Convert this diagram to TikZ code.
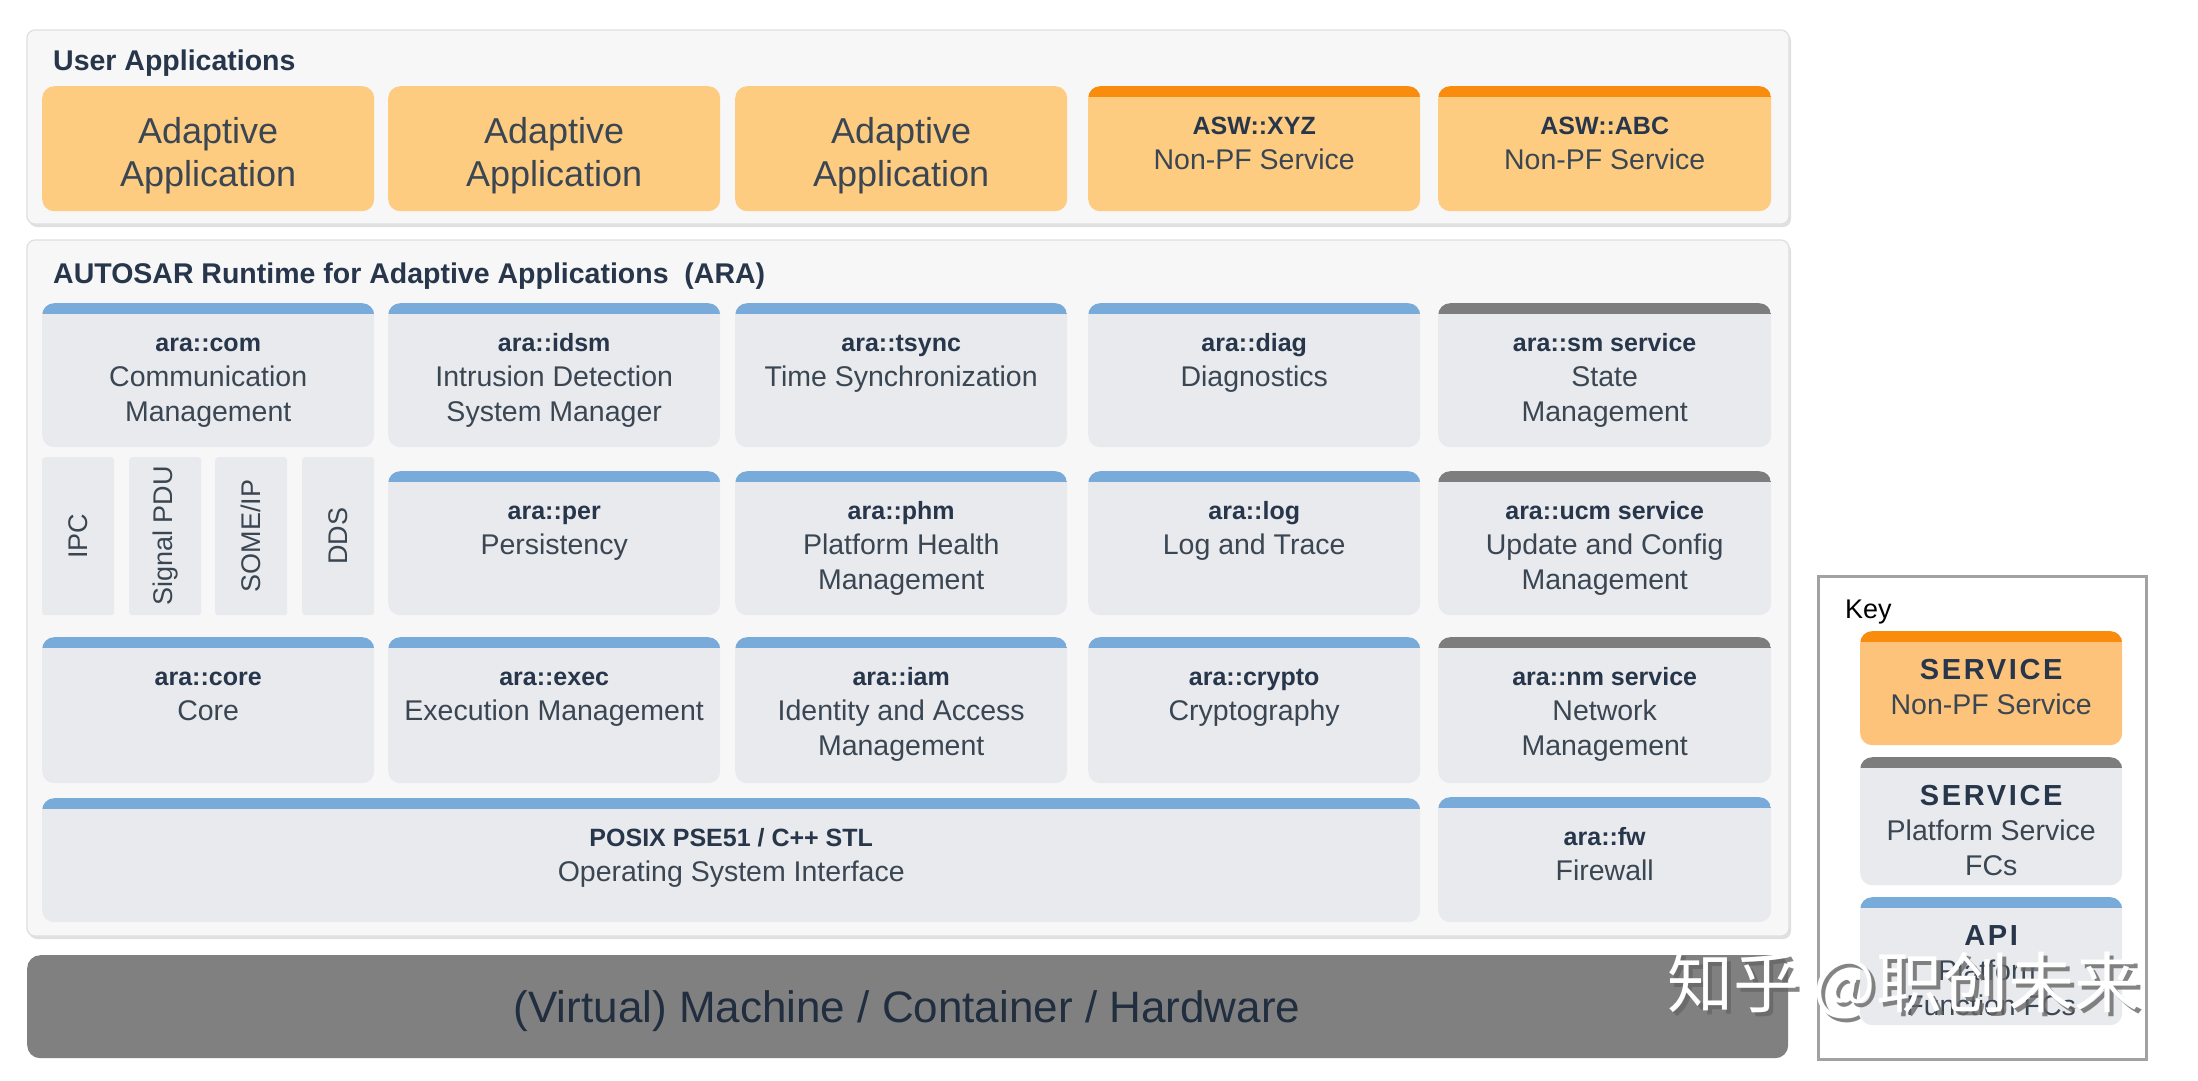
\documentclass[tikz,border=0pt]{standalone}
\usepackage{fontspec}
\setmainfont{Liberation Sans}
\newfontfamily\cjkfont{Noto Sans CJK SC}
\definecolor{panelbg}{HTML}{F7F7F8}
\definecolor{panelline}{HTML}{DEDFE1}
\definecolor{compgray}{HTML}{E8EAED}
\definecolor{bandblue}{HTML}{79ABDA}
\definecolor{bandgray}{HTML}{7D7D7D}
\definecolor{bandorange}{HTML}{F98C0C}
\definecolor{apporange}{HTML}{FECC80}
\definecolor{keyorange}{HTML}{FDC37A}
\definecolor{hwgray}{HTML}{808080}
\definecolor{titlecol}{HTML}{27364A}
\definecolor{bodycol}{HTML}{3B4653}
\definecolor{keyline}{HTML}{A2A2A2}
\usetikzlibrary{positioning}
\newcommand\archbox[9]{%
  \node[#6, minimum width=#4pt, minimum height=#5pt] (#1) at (#2,#3) {};
  \node[ttl] (#1-a) at ([yshift=-48pt]#1.north) {#7};
  \node[bdy] (#1-b) at ([yshift=-83pt]#1.north) {#8};
  \if\relax\detokenize{#9}\relax\else
  \node[bdy] (#1-c) at ([yshift=-118pt]#1.north) {#9};\fi
}
\newcommand\keyttl[1]{{\fontsize{29}{32}\selectfont\addfontfeatures{LetterSpace=9}#1}}
\tikzset{
  panel/.style={fill=panelbg, draw=panelline, line width=1.2pt, rounded corners=8pt},
  comp/.style={fill=compgray, rounded corners=12pt, inner sep=0pt, anchor=north west,
    path picture={\fill[#1, sharp corners] (path picture bounding box.north west) rectangle ([yshift=-11pt]path picture bounding box.north east);}},
  appbox/.style={fill=apporange, rounded corners=12pt, inner sep=0pt, anchor=north west},
  smallbox/.style={fill=compgray, rounded corners=3pt, inner sep=0pt, anchor=north west},
  ttl/.style={font=\bfseries\fontsize{25}{30}\selectfont, text=titlecol, inner sep=0pt, anchor=base},
  bdy/.style={font=\fontsize{28.5}{34}\selectfont, text=bodycol, inner sep=0pt, anchor=base},
  apptxt/.style={font=\fontsize{36}{42}\selectfont, text=bodycol, inner sep=0pt, anchor=base},
  vtxt/.style={font=\fontsize{27}{30}\selectfont, text=bodycol, inner sep=0pt, rotate=90},
  head/.style={font=\bfseries\fontsize{28.5}{32}\selectfont, text=titlecol, inner sep=0pt, anchor=base west},
}
\begin{document}
\begin{tikzpicture}[x=1pt,y=-1pt]
\useasboundingbox (0,0) rectangle (2198,1080);
\fill[white] (0,0) rectangle (2198,1080);

% ---------- User Applications panel
\fill[black!12, rounded corners=8pt] (29,33) rectangle (1791,227);
\draw[panel] (27,30) rectangle (1789,224);
\node[head] (uahead) at (53,70) {User Applications};

\node[appbox, minimum width=332pt, minimum height=125pt] (app1) at (42,86) {};
\node[appbox, minimum width=332pt, minimum height=125pt] (app2) at (388,86) {};
\node[appbox, minimum width=332pt, minimum height=125pt] (app3) at (735,86) {};
\foreach \n in {app1,app2,app3}{
  \node[apptxt] (\n-a) at ([yshift=-57pt]\n.north) {Adaptive};
  \node[apptxt] (\n-b) at ([yshift=-100pt]\n.north) {Application};
}
\archbox{xyz}{1088}{86}{332}{125}{comp=bandorange, fill=apporange}{ASW::XYZ}{Non-PF Service}{}
\archbox{abc}{1438}{86}{333}{125}{comp=bandorange, fill=apporange}{ASW::ABC}{Non-PF Service}{}

% ---------- ARA panel
\fill[black!12, rounded corners=8pt] (29,243) rectangle (1791,939);
\draw[panel] (27,240) rectangle (1789,936);
\node[head] (arahead) at (53,283) {AUTOSAR Runtime for Adaptive Applications\ \ (ARA)};

% Row A
\archbox{com}{42}{303}{332}{144}{comp=bandblue}{ara::com}{Communication}{Management}
\archbox{idsm}{388}{303}{332}{144}{comp=bandblue}{ara::idsm}{Intrusion Detection}{System Manager}
\archbox{tsync}{735}{303}{332}{144}{comp=bandblue}{ara::tsync}{Time Synchronization}{}
\archbox{diag}{1088}{303}{332}{144}{comp=bandblue}{ara::diag}{Diagnostics}{}
\archbox{sm}{1438}{303}{333}{144}{comp=bandgray}{ara::sm service}{State}{Management}

% Row B
\node[smallbox, minimum width=72pt, minimum height=158pt] (ipc) at (42,457) {};
\node[smallbox, minimum width=72pt, minimum height=158pt] (pdu) at (129,457) {};
\node[smallbox, minimum width=72pt, minimum height=158pt] (someip) at (215,457) {};
\node[smallbox, minimum width=72pt, minimum height=158pt] (dds) at (302,457) {};
\node[vtxt] (ipc-t) at (ipc.center) {IPC};
\node[vtxt] (pdu-t) at (pdu.center) {Signal PDU};
\node[vtxt] (someip-t) at (someip.center) {SOME/IP};
\node[vtxt] (dds-t) at (dds.center) {DDS};
\archbox{per}{388}{471}{332}{144}{comp=bandblue}{ara::per}{Persistency}{}
\archbox{phm}{735}{471}{332}{144}{comp=bandblue}{ara::phm}{Platform Health}{Management}
\archbox{log}{1088}{471}{332}{144}{comp=bandblue}{ara::log}{Log and Trace}{}
\archbox{ucm}{1438}{471}{333}{144}{comp=bandgray}{ara::ucm service}{Update and Config}{Management}

% Row C
\archbox{core}{42}{637}{332}{146}{comp=bandblue}{ara::core}{Core}{}
\archbox{exec}{388}{637}{332}{146}{comp=bandblue}{ara::exec}{Execution Management}{}
\archbox{iam}{735}{637}{332}{146}{comp=bandblue}{ara::iam}{Identity and Access}{Management}
\archbox{crypto}{1088}{637}{332}{146}{comp=bandblue}{ara::crypto}{Cryptography}{}
\archbox{nm}{1438}{637}{333}{146}{comp=bandgray}{ara::nm service}{Network}{Management}

% Row D
\archbox{posix}{42}{798}{1378}{124}{comp=bandblue}{POSIX PSE51 / C++ STL}{Operating System Interface}{}
\archbox{fw}{1438}{797}{333}{125}{comp=bandblue}{ara::fw}{Firewall}{}

% ---------- Hardware bar
\node[fill=hwgray, rounded corners=13pt, inner sep=0pt, anchor=north west,
      minimum width=1761pt, minimum height=103pt] (hw) at (27,955) {};
\node[font=\fontsize{44}{50}\selectfont, text=titlecol!85!black, inner sep=0pt, anchor=base]
      (hw-t) at (907,1022) {(Virtual) Machine / Container / Hardware};

% ---------- Key
\node[draw=keyline, line width=3pt, inner sep=0pt, anchor=north west,
      minimum width=328pt, minimum height=483pt] (key) at (1817,575) {};
\node[font=\fontsize{27}{32}\selectfont, text=black, inner sep=0pt, anchor=base west] (key-t) at (1845,618) {Key};
\archbox{k1}{1860}{631}{262}{114}{comp=bandorange, fill=keyorange}{\keyttl{SERVICE}}{Non-PF Service}{}
\archbox{k2}{1860}{757}{262}{128}{comp=bandgray}{\keyttl{SERVICE}}{Platform Service}{FCs}
\archbox{k3}{1860}{897}{262}{128}{comp=bandblue}{\keyttl{API}}{Platform}{Function FCs}

% ---------- watermark
\node[font=\cjkfont\fontsize{66}{70}\selectfont, text=black!60, opacity=0.8, inner sep=0pt, anchor=base west]
      (wm-s) at (1671,1011) {知乎 @职创未来};
\node[font=\cjkfont\fontsize{66}{70}\selectfont, text=white, inner sep=0pt, anchor=base west]
      (wm) at (1667,1007) {知乎 @职创未来};
\end{tikzpicture}
\end{document}
